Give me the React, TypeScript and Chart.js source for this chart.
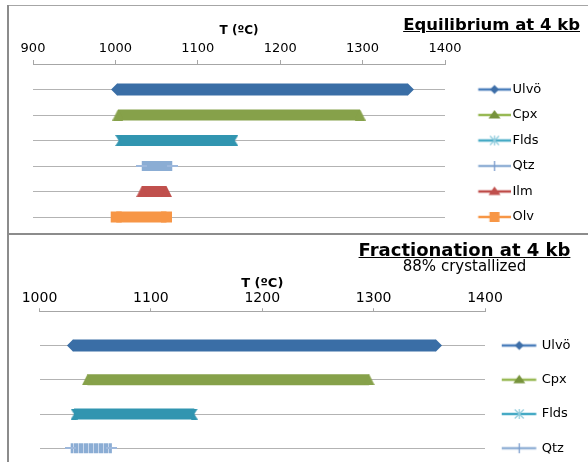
import { useEffect, useRef } from 'react';
import { Chart, registerables } from 'chart.js';

Chart.register(...registerables);

// ---------------- data (°C) ----------------
const eqMinerals = ['Ulvö', 'Cpx', 'Flds', 'Qtz', 'Ilm', 'Olv'];
const eqStart = [1002, 1003, 1004, 1032, 1032, 1001];
const eqEnd = [1355, 1297, 1145, 1069, 1062, 1062];
const eqTicks = [900, 1000, 1100, 1200, 1300, 1400];

const frMinerals = ['Ulvö', 'Cpx', 'Flds', 'Qtz'];
const frStart = [1030, 1043, 1031, 1028];
const frEnd = [1356, 1296, 1139, 1065];
const frTicks = [1000, 1100, 1200, 1300, 1400];

const axisTitle = 'T (ºC)';
const eqTitle = 'Equilibrium at 4 kb';
const frTitle = 'Fractionation at 4 kb';
const frSubtitle = '88% crystallized';

// ---------------- styles ----------------
const FONT = '"DejaVu Sans", sans-serif';
const bandColor: Record<string, string> = {
  'Ulvö': '#3a6ea6', Cpx: '#86a14a', Flds: '#3195b0', Qtz: '#8badd4', Ilm: '#c0504d', Olv: '#f79646',
};
const bandHeight: Record<string, number> = { 'Ulvö': 12, Cpx: 11, Flds: 11, Qtz: 10, Ilm: 11, Olv: 11 };
const markKind: Record<string, string> = {
  'Ulvö': 'diamond', Cpx: 'triangle', Flds: 'star', Qtz: 'plus', Ilm: 'triangle', Olv: 'square',
};
const legendLine: Record<string, string> = {
  'Ulvö': '#4a7ebb', Cpx: '#98b954', Flds: '#46aac5', Qtz: '#95b3d7', Ilm: '#be4b48', Olv: '#f79646',
};
const legendMark: Record<string, string> = {
  'Ulvö': '#3d6ea8', Cpx: '#77933c', Flds: '#93cddd', Qtz: '#7a9ccc', Ilm: '#c0504d', Olv: '#f79646',
};
const whiskerColor = '#9db8dc';
const gridColor = '#b3b3b3';
const axisColor = '#a6a6a6';

function makeCap(kind: string, color: string, h: number) {
  if (kind === 'diamond') return { style: 'rectRot' as any, radius: h / 2 };
  if (kind === 'square') return { style: 'rect' as any, radius: h / 2 / Math.SQRT1_2 };
  const c = document.createElement('canvas');
  if (kind === 'triangle') {
    c.width = 11; c.height = h;
    const g = c.getContext('2d')!;
    g.fillStyle = color;
    g.beginPath(); g.moveTo(5.5, 0); g.lineTo(11, h); g.lineTo(0, h); g.closePath(); g.fill();
  } else if (kind === 'star') {
    c.width = 7; c.height = h;
    const g = c.getContext('2d')!;
    g.fillStyle = color;
    g.beginPath(); g.moveTo(0, 0); g.lineTo(7, 0); g.lineTo(3.5, h / 2); g.closePath();
    g.moveTo(0, h); g.lineTo(7, h); g.lineTo(3.5, h / 2); g.closePath(); g.fill();
  } else {
    c.width = 11; c.height = 2;
    const g = c.getContext('2d')!;
    g.fillStyle = whiskerColor; g.fillRect(0, 0, 11, 2);
  }
  return { style: c as any, radius: 6 };
}

function makeLegendIcon(name: string, w: number, x1: number, x2: number, mx: number) {
  const c = document.createElement('canvas');
  c.width = w; c.height = 14;
  const g = c.getContext('2d')!;
  const cy = 7;
  g.strokeStyle = legendLine[name]; g.lineWidth = 2.5;
  g.beginPath(); g.moveTo(x1, cy); g.lineTo(x2, cy); g.stroke();
  const col = legendMark[name];
  g.fillStyle = col; g.strokeStyle = col;
  const k = markKind[name];
  g.beginPath();
  if (k === 'diamond') {
    g.moveTo(mx - 4.5, cy); g.lineTo(mx, cy - 4.5); g.lineTo(mx + 4.5, cy); g.lineTo(mx, cy + 4.5); g.closePath(); g.fill();
  } else if (k === 'triangle') {
    g.moveTo(mx, cy - 5); g.lineTo(mx + 6, cy + 3.5); g.lineTo(mx - 6, cy + 3.5); g.closePath(); g.fill();
  } else if (k === 'square') {
    g.fillRect(mx - 5, cy - 5, 10, 10);
  } else if (k === 'star') {
    g.lineWidth = 1.3;
    g.moveTo(mx - 4.5, cy - 4.5); g.lineTo(mx + 4.5, cy + 4.5);
    g.moveTo(mx + 4.5, cy - 4.5); g.lineTo(mx - 4.5, cy + 4.5);
    g.moveTo(mx, cy - 5); g.lineTo(mx, cy + 5); g.stroke();
  } else {
    g.lineWidth = 1.3;
    g.moveTo(mx, cy - 5); g.lineTo(mx, cy + 5); g.stroke();
  }
  return c;
}

type Cfg = {
  minerals: string[]; starts: number[]; ends: number[]; ticks: number[];
  xMin: number; xMax: number; yMin: number;
  padding: any; tickSize: number; tickPad: number; tickLen: number;
  titleSize: number; titlePad: any;
  legendPad: number; legendBoxW: number; legendMaxW: number; icons: HTMLCanvasElement[];
  qtzPattern?: any;
};

function buildConfig(c: Cfg): any {
  const n = c.minerals.length;
  const datasets = c.minerals.map((name, i) => {
    const h = bandHeight[name];
    const cap = makeCap(markKind[name], bandColor[name], h);
    const row = n - i;
    const stroke = name === 'Qtz' && c.qtzPattern ? c.qtzPattern : bandColor[name];
    return {
      label: name,
      data: [{ x: c.starts[i], y: row }, { x: c.ends[i], y: row }],
      borderColor: stroke,
      backgroundColor: bandColor[name],
      borderWidth: h,
      borderCapStyle: 'butt',
      pointStyle: cap.style,
      pointRadius: cap.radius,
      pointHoverRadius: cap.radius,
      pointBackgroundColor: bandColor[name],
      pointBorderWidth: 0,
      pointHoverBorderWidth: 0,
      tension: 0,
      fill: false,
      clip: false,
    };
  });
  return {
    type: 'line',
    data: { datasets },
    options: {
      responsive: false,
      animation: false,
      events: [],
      layout: { padding: c.padding, autoPadding: false },
      scales: {
        x: {
          type: 'linear',
          position: 'top',
          min: c.xMin,
          max: c.xMax,
          afterBuildTicks: (s: any) => { s.ticks = c.ticks.map((v) => ({ value: v })); },
          ticks: {
            callback: (v: any) => String(v),
            autoSkip: false,
            maxRotation: 0,
            padding: c.tickPad,
            color: '#000',
            font: { family: FONT, size: c.tickSize, lineHeight: 1 },
          },
          grid: { drawOnChartArea: false, drawTicks: true, tickLength: c.tickLen, color: axisColor },
          border: { display: true, color: axisColor, width: 1 },
          title: {
            display: true,
            text: axisTitle,
            color: '#000',
            font: { family: FONT, size: c.titleSize, weight: 'bold', lineHeight: 1 },
            padding: c.titlePad,
          },
        },
        y: {
          type: 'linear',
          min: c.yMin,
          max: n + 1,
          ticks: { display: false, stepSize: 1, includeBounds: false },
          grid: { drawTicks: false, color: gridColor, lineWidth: 1 },
          border: { display: false },
        },
      },
      plugins: {
        tooltip: { enabled: false },
        legend: {
          display: true,
          position: 'right',
          align: 'end',
          maxWidth: c.legendMaxW,
          labels: {
            usePointStyle: true,
            pointStyleWidth: c.legendBoxW,
            padding: c.legendPad,
            color: '#000',
            font: { family: FONT, size: 13 },
            generateLabels: (chart: any) =>
              (Chart.defaults.plugins.legend.labels.generateLabels as any)(chart).map((it: any, i: number) => ({
                ...it,
                pointStyle: c.icons[i],
              })),
          },
        },
      },
    },
  };
}

export default function App() {
  const topRef = useRef<HTMLCanvasElement>(null);
  const botRef = useRef<HTMLCanvasElement>(null);

  useEffect(() => {
    Chart.defaults.font.family = FONT;
    const topIcons = eqMinerals.map((m) => makeLegendIcon(m, 58, 25.5, 58, 41.75));
    const botIcons = frMinerals.map((m) => makeLegendIcon(m, 40, 1, 35.5, 18.5));

    const pc = document.createElement('canvas');
    pc.width = 5; pc.height = 1;
    const pg = pc.getContext('2d')!;
    pg.fillStyle = bandColor['Qtz']; pg.fillRect(0, 0, 5, 1);
    pg.fillStyle = '#c8d7ec'; pg.fillRect(4, 0, 1, 1);
    const pattern = botRef.current!.getContext('2d')!.createPattern(pc, 'repeat');

    const top = new Chart(topRef.current!, buildConfig({
      minerals: eqMinerals, starts: eqStart, ends: eqEnd, ticks: eqTicks,
      xMin: 900, xMax: 1400, yMin: 0.255,
      padding: { top: 14.5, left: 24, right: 43, bottom: 0 },
      tickSize: 13, tickPad: 4.5, tickLen: 4,
      titleSize: 12, titlePad: { top: 4, bottom: 1.5 },
      legendPad: 12.5, legendBoxW: 48.5, legendMaxW: 100, icons: topIcons,
    }));
    const bot = new Chart(botRef.current!, buildConfig({
      minerals: frMinerals, starts: frStart, ends: frEnd, ticks: frTicks,
      xMin: 1000, xMax: 1400, yMin: 0.19,
      padding: { top: 37.5, left: 30.5, right: 11, bottom: 0 },
      tickSize: 14, tickPad: 2.75, tickLen: 3,
      titleSize: 13, titlePad: { top: 4, bottom: -1.75 },
      legendPad: 21.25, legendBoxW: 29, legendMaxW: 92, icons: botIcons,
      qtzPattern: pattern,
    }));
    return () => { top.destroy(); bot.destroy(); };
  }, []);

  return (
    <div style={{ position: 'fixed', left: 0, top: 0, width: 588, height: 462, overflow: 'hidden', background: '#fff', fontFamily: FONT, color: '#000' }}>
      <canvas ref={topRef} width={579} height={230} style={{ position: 'absolute', left: 9, top: 6 }} />
      <canvas ref={botRef} width={579} height={240} style={{ position: 'absolute', left: 9, top: 236 }} />
      {/* panel frames */}
      <div style={{ position: 'absolute', left: 7, top: 5, width: 581, height: 1, background: '#a6a6a6' }} />
      <div style={{ position: 'absolute', left: 7, top: 5, width: 2, height: 457, background: '#8c8c8c' }} />
      <div style={{ position: 'absolute', left: 7, top: 233, width: 581, height: 2, background: '#8c8c8c' }} />
      {/* titles */}
      <div style={{ position: 'absolute', right: 8, top: 16.5, fontFamily: FONT, fontWeight: 'bold', fontSize: 16.5, lineHeight: '16.5px', textDecoration: 'underline', whiteSpace: 'nowrap' }}>
        {eqTitle}
      </div>
      <div style={{ position: 'absolute', left: 356, width: 217, top: 241, textAlign: 'center', whiteSpace: 'nowrap' }}>
        <div style={{ fontFamily: FONT, fontWeight: 'bold', fontSize: 18, lineHeight: '18px', textDecoration: 'underline' }}>{frTitle}</div>
        <div style={{ fontFamily: FONT, fontSize: 15, lineHeight: '15px', marginTop: 0 }}>{frSubtitle}</div>
      </div>
    </div>
  );
}
